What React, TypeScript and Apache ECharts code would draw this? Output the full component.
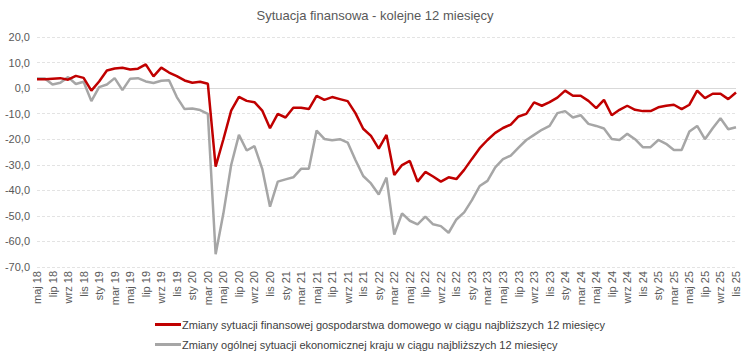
import React, { useEffect, useRef } from "react";
import * as echarts from "echarts";

const monthNames = ["sty", "lut", "mar", "kwi", "maj", "cze", "lip", "sie", "wrz", "paź", "lis", "gru"];
const categories: string[] = [];
for (let y = 2018; y <= 2025; y++) {
  for (let m = 0; m < 12; m++) {
    if (y === 2018 && m < 4) continue;
    if (y === 2025 && m > 10) continue;
    categories.push(`${monthNames[m]} ${String(y).slice(2)}`);
  }
}

const householdFinance = [
  3.5, 3.5, 3.7, 3.9, 3.3, 4.8, 4.0, -1.0, 2.6, 6.9, 7.7, 8.0, 7.3, 7.6, 9.3, 4.6,
  8.0, 6.1, 4.7, 3.0, 2.1, 2.5, 1.7, -30.7, -20.0, -8.8, -3.4, -5.0, -5.5, -8.8,
  -15.7, -10.1, -11.5, -7.7, -7.7, -8.2, -3.0, -4.6, -3.5, -4.3, -5.1, -9.8, -15.9,
  -18.7, -23.7, -18.3, -34.0, -30.1, -28.5, -36.6, -32.8, -34.6, -36.6, -34.9, -35.6,
  -32.0, -27.7, -23.5, -20.3, -17.5, -15.6, -14.3, -11.1, -10.1, -5.6, -6.9, -5.5,
  -3.7, -1.0, -3.0, -3.0, -5.0, -7.8, -4.6, -10.6, -8.5, -6.9, -8.5, -9.0, -9.0,
  -7.5, -6.9, -6.5, -8.2, -6.5, -1.0, -3.9, -2.2, -2.2, -4.3, -1.7,
];

const countryEconomy = [
  3.8, 3.8, 1.4, 2.1, 4.3, 1.6, 2.5, -5.1, 0.4, 1.4, 3.9, -0.8, 3.7, 3.9, 2.6, 2.0,
  2.9, 3.1, -3.5, -8.2, -8.0, -8.6, -10.1, -65.0, -49.0, -30.1, -18.3, -24.4, -22.7,
  -31.6, -46.4, -36.6, -35.7, -34.9, -31.6, -31.6, -16.6, -19.9, -20.4, -20.0, -21.3,
  -28.1, -34.4, -37.3, -41.6, -35.0, -57.3, -49.0, -51.9, -53.3, -50.3, -53.3, -54.0,
  -56.6, -51.4, -48.6, -43.8, -38.3, -36.3, -31.0, -27.8, -26.4, -23.3, -20.3, -18.3,
  -16.3, -14.8, -9.8, -9.0, -11.5, -10.6, -14.0, -14.8, -15.8, -19.9, -20.3, -17.9,
  -20.0, -23.1, -23.1, -20.3, -21.8, -24.2, -24.2, -17.0, -14.8, -20.0, -15.7, -11.8,
  -16.1, -15.3,
];

const seriesNames = [
  "Zmiany sytuacji finansowej gospodarstwa domowego w ciągu najbliższych 12 miesięcy",
  "Zmiany ogólnej sytuacji ekonomicznej kraju w ciągu najbliższych 12 miesięcy",
];

const titleText = "Sytuacja finansowa - kolejne 12 miesięcy";

export default function App() {
  const ref = useRef<HTMLDivElement>(null);
  useEffect(() => {
    document.body.style.margin = "0";
    if (!ref.current) return;
    const chart = echarts.init(ref.current, null, { renderer: "svg" });
    const font = "'Liberation Sans', Arial, sans-serif";
    const legendCommon = {
      orient: "vertical",
      left: 155,
      padding: 0,
      itemWidth: 26,
      itemHeight: 3,
      icon: "rect",
      textStyle: { fontSize: 11, color: "#404040", fontFamily: font, padding: [0, 0, 0, -4] },
    };
    chart.setOption({
      animation: false,
      textStyle: { fontFamily: font },
      title: {
        text: titleText,
        left: "center",
        top: 4,
        textStyle: { fontSize: 13, fontWeight: "normal", color: "#595959", fontFamily: font },
      },
      grid: { left: 37, right: 14, top: 37, bottom: 90 },
      legend: [
        { ...legendCommon, top: 319, data: [seriesNames[0]] },
        { ...legendCommon, top: 339, data: [seriesNames[1]] },
      ],
      xAxis: {
        type: "category",
        data: categories,
        boundaryGap: false,
        axisLine: { show: false },
        axisTick: { show: false },
        axisLabel: { rotate: 90, interval: 1, fontSize: 11, color: "#595959", margin: 4, fontFamily: font },
        splitLine: { show: false },
      },
      yAxis: {
        type: "value",
        min: -70,
        max: 20,
        interval: 10,
        axisLine: { show: false },
        axisTick: { show: false },
        axisLabel: {
          fontSize: 11,
          color: "#595959",
          margin: 7,
          fontFamily: font,
          formatter: (v: number) => v.toFixed(1).replace(".", ","),
        },
        splitLine: {
          lineStyle: {
            color: "#e3e3e3",
            type: [3, 2],
            width: 1,
          },
        },
      },
      series: [
        {
          name: seriesNames[0],
          type: "line",
          data: householdFinance,
          symbol: "none",
          lineStyle: { color: "#C00000", width: 2.5 },
          itemStyle: { color: "#C00000" },
          z: 3,
          markLine: {
            silent: true,
            symbol: "none",
            label: { show: false },
            lineStyle: { color: "#d9d9d9", type: "solid", width: 1 },
            data: [{ yAxis: 0 }],
            z: 1,
          },
        },
        {
          name: seriesNames[1],
          type: "line",
          data: countryEconomy,
          symbol: "none",
          lineStyle: { color: "#A6A6A6", width: 2.5 },
          itemStyle: { color: "#A6A6A6" },
          z: 2,
        },
      ],
    });
    return () => chart.dispose();
  }, []);
  return <div ref={ref} style={{ width: 750, height: 357 }} />;
}
